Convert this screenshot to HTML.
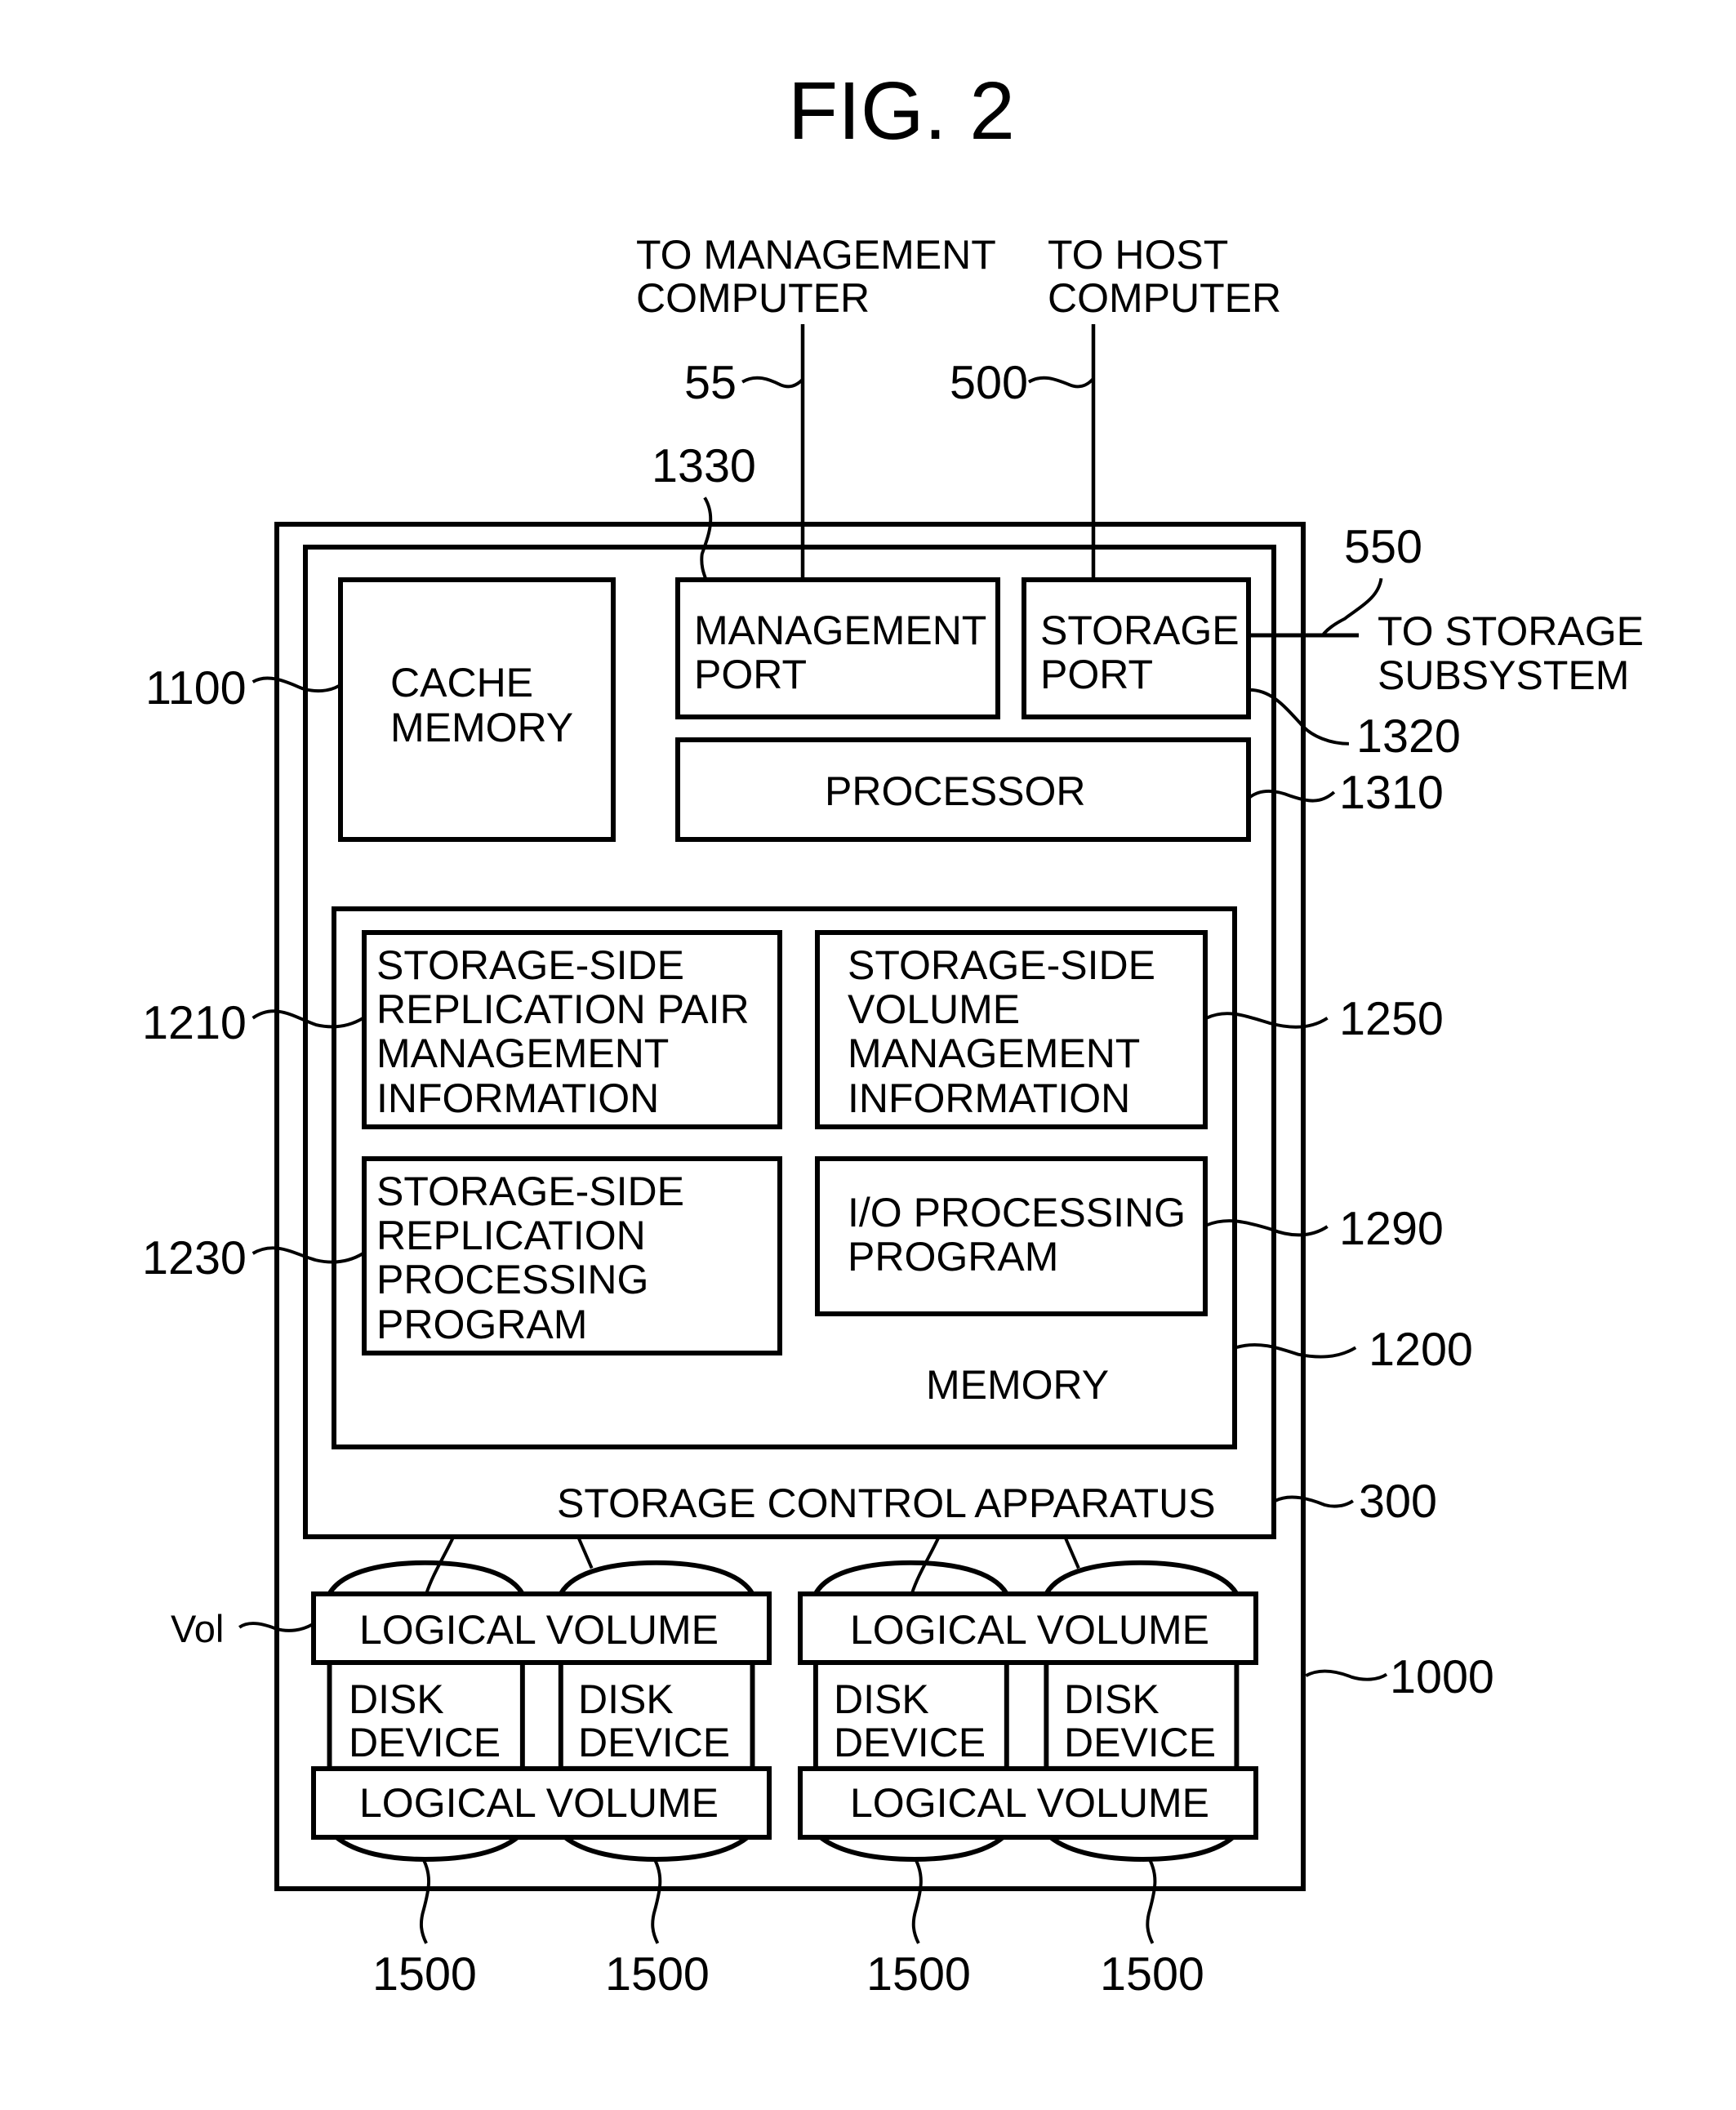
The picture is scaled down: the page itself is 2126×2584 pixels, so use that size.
<!DOCTYPE html>
<html>
<head>
<meta charset="utf-8">
<style>
html,body{margin:0;padding:0;background:#fff;width:2126px;height:2584px;overflow:hidden}
svg{display:block}
text{font-family:"Liberation Sans",sans-serif;font-size:50px;fill:#000}
.n{font-size:57.5px}
.b{fill:#fff;stroke:#000;stroke-width:6}
</style>
</head>
<body>
<svg xmlns="http://www.w3.org/2000/svg" width="2126" height="2584" viewBox="0 0 2126 2584">
<rect width="2126" height="2584" fill="#fff"/>
<rect class="b" x="339" y="642" width="1257" height="1671"/>
<rect class="b" x="374" y="670" width="1186" height="1212"/>
<rect class="b" x="417" y="710" width="334" height="318"/>
<rect class="b" x="830" y="710" width="392" height="168"/>
<rect class="b" x="1254" y="710" width="275" height="168"/>
<rect class="b" x="830" y="906" width="699" height="122"/>
<rect class="b" x="409" y="1113" width="1103" height="659"/>
<rect class="b" x="446" y="1142" width="509" height="238"/>
<rect class="b" x="1001" y="1142" width="475" height="238"/>
<rect class="b" x="446" y="1419" width="509" height="238"/>
<rect class="b" x="1001" y="1419" width="475" height="190"/>

<g transform="scale(1.647)" fill="#fff" stroke="#000" stroke-width="3.6">
<path d="M245,1185 C255,1167 290,1162 316,1162 C345,1162 378,1167 388.5,1185 L388.5,1315 L245,1315 Z"/>
<path d="M417,1185 C427,1167 460,1162 488,1162 C516,1162 549,1167 559.5,1185 L559.5,1315 L417,1315 Z"/>
<path d="M606.5,1185 C616,1167 650,1162 677,1162 C705,1162 738,1167 748.5,1185 L748.5,1315 L606.5,1315 Z"/>
<path d="M778,1185 C788,1167 821,1162 848,1162 C876,1162 909,1167 919.5,1185 L919.5,1315 L778,1315 Z"/>
<path d="M250,1366 C265,1378 290,1382.5 316,1382.5 C345,1382.5 370,1378 385,1366"/>
<path d="M420,1366 C435,1378 462,1382.5 488,1382.5 C516,1382.5 541,1378 556,1366"/>
<path d="M610,1366 C625,1378 652,1382.5 680,1382.5 C707,1382.5 732,1378 746,1366"/>
<path d="M781,1366 C796,1378 823,1382.5 850,1382.5 C878,1382.5 903,1378 917,1366"/>
</g>

<rect class="b" x="384" y="1952" width="558" height="84"/>
<rect class="b" x="384" y="2166" width="558" height="84"/>
<rect class="b" x="980" y="1952" width="558" height="84"/>
<rect class="b" x="980" y="2166" width="558" height="84"/>

<line x1="983" y1="397" x2="983" y2="710" stroke="#000" stroke-width="4.5"/>
<line x1="1339" y1="397" x2="1339" y2="710" stroke="#000" stroke-width="4.5"/>
<line x1="1529" y1="778" x2="1664" y2="778" stroke="#000" stroke-width="5"/>

<g transform="scale(1.647)" fill="none" stroke="#000" stroke-width="2.4">
<path d="M552,284 C562,278 572,282 580,286 C587,289 592,287 597,282"/>
<path d="M765,284 C775,278 785,282 795,286 C802,289 808,287 812.5,282"/>
<path d="M524,370 C533,385 526,400 522,412 C521,420 523,426 525,431"/>
<path d="M1027,430 C1025,445 1010,452 1000,460 C990,465 985,470 983,473"/>
<path d="M929,513 C945,513 955,525 967,538 C975,548 990,553 1003,553"/>
<path d="M929,593 C938,586 950,588 960,592 C972,596 982,598 992,589"/>
<path d="M188,507 C200,500 215,508 225,512 C235,515 245,514 252,510"/>
<path d="M188,757 C205,745 220,757 235,762 C248,765 260,763 270,757"/>
<path d="M188,932 C205,922 220,933 235,937 C248,940 260,938 270,932"/>
<path d="M897,757 C912,750 925,755 945,761 C960,765 975,765 987,757"/>
<path d="M897,911 C912,905 925,908 945,914 C960,920 975,920 987,912"/>
<path d="M919,1002 C935,997 950,1002 965,1007 C980,1010 995,1010 1008,1002"/>
<path d="M948,1116 C960,1110 975,1115 985,1119 C992,1121 1000,1120 1006,1116"/>
<path d="M971,1246 C982,1240 995,1243 1005,1247 C1015,1250 1025,1249 1031,1245"/>
<path d="M178,1210 C185,1205 195,1207 205,1211 C215,1214 225,1212 232,1208"/>
<path d="M337,1143 C330,1158 322,1170 317,1185"/>
<path d="M430,1143 L440,1166"/>
<path d="M698,1143 C691,1158 683,1170 678,1185"/>
<path d="M792,1143 L802,1166"/>
<path d="M315,1383 C321,1395 319,1405 315,1420 C312,1430 313,1437 317,1445"/>
<path d="M487,1383 C493,1395 491,1405 487,1420 C484,1430 485,1437 489,1445"/>
<path d="M681,1383 C687,1395 685,1405 681,1420 C678,1430 679,1437 683,1445"/>
<path d="M855,1383 C861,1395 859,1405 855,1420 C852,1430 853,1437 857,1445"/>
</g>

<text x="965" y="170" style="font-size:100px">FIG. 2</text>
<text x="779" y="329">TO MANAGEMENT</text>
<text x="779" y="382">COMPUTER</text>
<text x="1283" y="329">TO HOST</text>
<text x="1283" y="382">COMPUTER</text>
<text class="n" x="838" y="488">55</text>
<text class="n" x="1163" y="488">500</text>
<text class="n" x="798" y="590">1330</text>
<text class="n" x="1646" y="689">550</text>
<text class="n" x="178" y="862">1100</text>
<text x="478" y="853">CACHE</text>
<text x="478" y="908">MEMORY</text>
<text x="850" y="789">MANAGEMENT</text>
<text x="850" y="843">PORT</text>
<text x="1274" y="789">STORAGE</text>
<text x="1274" y="843">PORT</text>
<text x="1687" y="790">TO STORAGE</text>
<text x="1687" y="844">SUBSYSTEM</text>
<text class="n" x="1661" y="921">1320</text>
<text class="n" x="1640" y="990">1310</text>
<text x="1010" y="986">PROCESSOR</text>
<text x="461" y="1199">STORAGE-SIDE</text>
<text x="461" y="1253">REPLICATION PAIR</text>
<text x="461" y="1307">MANAGEMENT</text>
<text x="461" y="1362">INFORMATION</text>
<text x="1038" y="1199">STORAGE-SIDE</text>
<text x="1038" y="1253">VOLUME</text>
<text x="1038" y="1307">MANAGEMENT</text>
<text x="1038" y="1362">INFORMATION</text>
<text class="n" x="174" y="1272">1210</text>
<text class="n" x="1640" y="1267">1250</text>
<text class="n" x="174" y="1560">1230</text>
<text x="461" y="1476">STORAGE-SIDE</text>
<text x="461" y="1530">REPLICATION</text>
<text x="461" y="1584">PROCESSING</text>
<text x="461" y="1639">PROGRAM</text>
<text x="1038" y="1502">I/O PROCESSING</text>
<text x="1038" y="1556">PROGRAM</text>
<text class="n" x="1640" y="1524">1290</text>
<text x="1134" y="1713">MEMORY</text>
<text class="n" x="1676" y="1672">1200</text>
<text x="682" y="1858">STORAGE CONTROL APPARATUS</text>
<text class="n" x="1664" y="1858">300</text>
<text x="209" y="2011" style="font-size:47px">Vol</text>
<text x="440" y="2013">LOGICAL VOLUME</text>
<text x="1041" y="2013">LOGICAL VOLUME</text>
<text x="440" y="2225">LOGICAL VOLUME</text>
<text x="1041" y="2225">LOGICAL VOLUME</text>
<text x="427" y="2098">DISK</text>
<text x="427" y="2151">DEVICE</text>
<text x="708" y="2098">DISK</text>
<text x="708" y="2151">DEVICE</text>
<text x="1021" y="2098">DISK</text>
<text x="1021" y="2151">DEVICE</text>
<text x="1303" y="2098">DISK</text>
<text x="1303" y="2151">DEVICE</text>
<text class="n" x="1702" y="2073">1000</text>
<text class="n" x="456" y="2437">1500</text>
<text class="n" x="741" y="2437">1500</text>
<text class="n" x="1061" y="2437">1500</text>
<text class="n" x="1347" y="2437">1500</text>
</svg>
</body>
</html>
